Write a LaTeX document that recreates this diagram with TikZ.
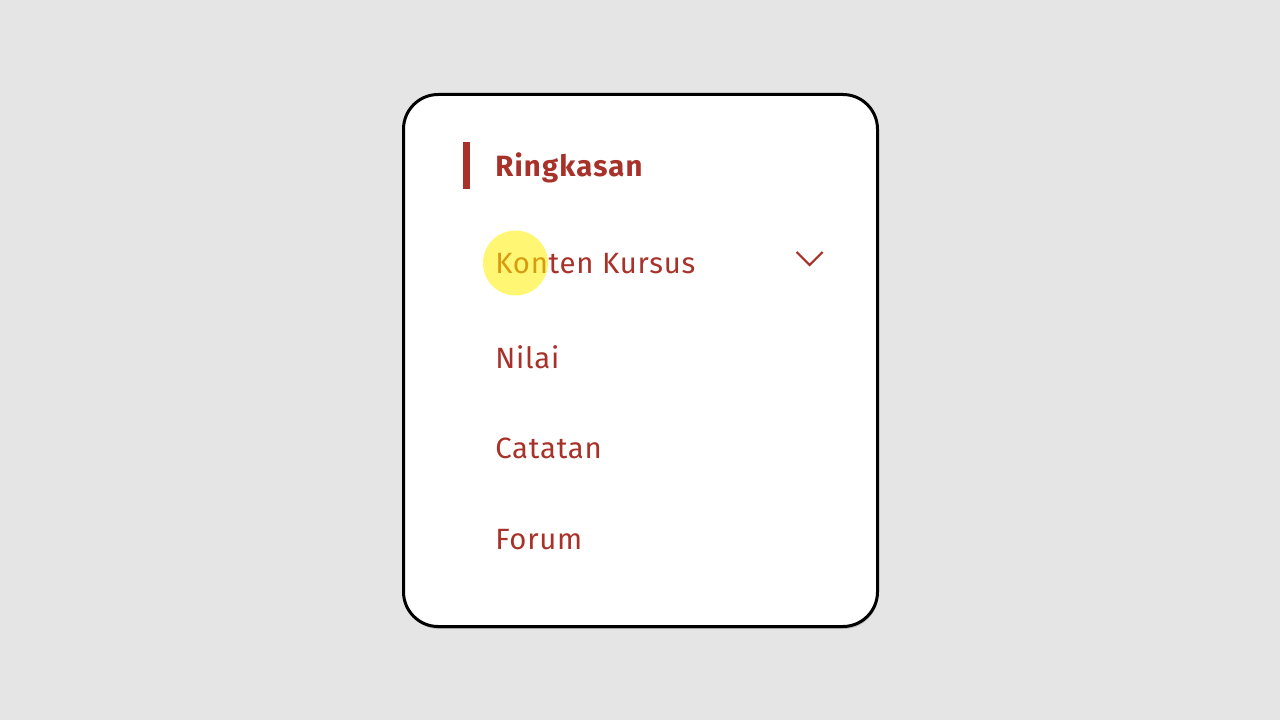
\documentclass[tikz,border=0pt]{standalone}
\usepackage{fontspec}
\setmainfont{Fira Sans}
\newfontfamily\itemfont[LetterSpace=2.6]{Fira Sans}
\newfontfamily\activefont[LetterSpace=4.0]{Fira Sans Bold}
\usetikzlibrary{shadows}
\definecolor{pagegray}{HTML}{E5E5E5}
\definecolor{menured}{HTML}{A8322A}
\begin{document}
\begin{tikzpicture}[x=0.75pt,y=-0.75pt,
	menuitem/.style={anchor=base west, inner sep=0pt, text=menured, font=\fontsize{22}{26}\selectfont\itemfont}]
	\fill[pagegray] (0,0) rectangle (1280,720);
	\useasboundingbox (0,0) rectangle (1280,720);
	
	%card
	\draw[line width=2.25pt, fill=white, rounded corners=26pt,
		drop shadow={shadow xshift=0.6pt, shadow yshift=-1.8pt, opacity=0.45}]
		(403.5,94.5) rectangle (877.5,626.5);
	
	%active item
	\fill[menured] (463,142) rectangle (470,189);
	\node[menuitem, font=\fontsize{22}{26}\selectfont\activefont] (ringkasan) at (495,177) {Ringkasan};
	
	%other items
	\node[menuitem] (konten) at (495,273) {Konten Kursus};
	\node[menuitem] (nilai) at (495,368) {Nilai};
	\node[menuitem] (catatan) at (495,458) {Catatan};
	\node[menuitem] (forum) at (495,549) {Forum};
	
	%chevron
	\draw[menured, line width=1.6pt] (796.5,252) -- (809.5,265) -- (822.5,252);
	
	%cursor highlight
	\fill[yellow, opacity=0.55] (515.5,263) circle (32.5);
\end{tikzpicture}
\end{document}
